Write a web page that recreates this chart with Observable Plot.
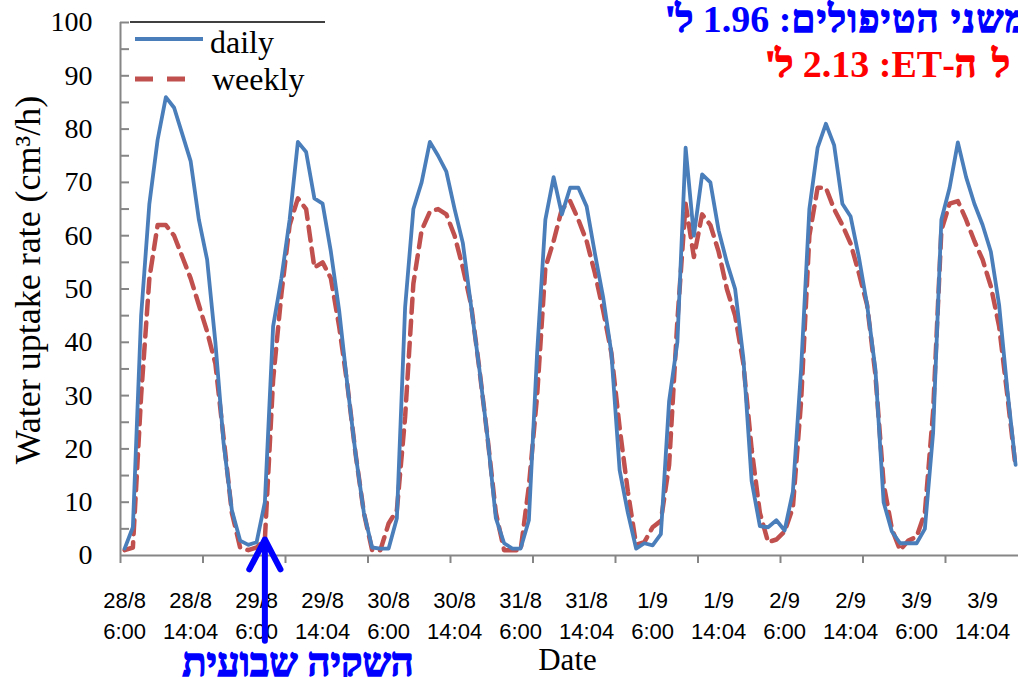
<!DOCTYPE html>
<html>
<head>
<meta charset="utf-8">
<script src="https://cdn.jsdelivr.net/npm/d3@7"></script>
<script src="https://cdn.jsdelivr.net/npm/@observablehq/plot@0.6"></script>
<style>
  html, body { margin: 0; padding: 0; background: #fff; overflow: hidden; }
  #wrap { position: relative; width: 1018px; height: 677px; overflow: hidden; background: #fff; }
  #wrap > svg { position: absolute; left: 0; top: 0; }
  .he { position: absolute; white-space: nowrap; font-family: "Liberation Serif", "DejaVu Sans", serif; font-weight: bold; line-height: 1; }
  .heb { -webkit-text-stroke: 1.4px currentColor; }
</style>
</head>
<body>
<div id="wrap">
  <div id="chart"></div>
  <svg id="legend" width="340" height="110" style="position:absolute;left:0;top:0">
    <line x1="130" y1="22" x2="325" y2="22" stroke="#000" stroke-width="1.5"/>
    <line x1="135" y1="39" x2="203" y2="39" stroke="#4A7EBB" stroke-width="4"/>
    <line x1="135" y1="79" x2="190" y2="79" stroke="#C0504D" stroke-width="5" stroke-dasharray="18 14"/>
    <text x="210" y="53" font-family="Liberation Serif, serif" font-size="32">daily</text>
    <text x="212" y="90" font-family="Liberation Serif, serif" font-size="32">weekly</text>
  </svg>
  <div class="he" dir="rtl" style="left:665px;top:0px;font-size:38px;color:#0000FF"><span class="heb" style="letter-spacing:1.5px">משני הטיפולים</span>: 1.96 <span class="heb">ל'</span></div>
  <div class="he" dir="rtl" style="left:765px;top:45px;font-size:38px;color:#FF0000"><span class="heb" style="letter-spacing:3px">ל ה</span>-<bdi>ET</bdi>: 2.13 <span class="heb">ל'</span></div>
  <div class="he heb" dir="rtl" style="left:148px;top:649px;width:300px;text-align:center;font-size:40px;line-height:0.7;color:#0000FF">השקיה שבועית</div>
</div>
<script>
// ---- data (category index = sample number along the Excel category axis) ----
const daily = [
  1.3, 5.3, 45, 66, 78, 86, 84, 79, 74, 63,
  55.5, 40, 21, 8.5, 2.8, 2, 2.5, 10, 43, 52,
  63, 77.6, 75.7, 67, 66, 57, 46, 32, 19, 8,
  1.5, 1.3, 1.3, 7, 46.6, 65, 70, 77.6, 75, 72,
  65, 58.6, 46.7, 35, 22, 7, 2.3, 1.3, 1.3, 6.6,
  38, 63, 71, 64, 69, 69, 65.5, 56.7, 48.5, 38,
  16, 8, 1.3, 2.3, 1.9, 4, 29, 40, 76.5, 60,
  71.5, 70, 61, 55, 50, 37, 14, 5.5, 5.3, 6.6,
  4.7, 12, 35, 65, 76.5, 81, 77, 66, 63.6, 56,
  47, 35, 10, 4.5, 2.3, 2.3, 2.3, 5, 23, 63,
  69, 77.5, 71, 66, 62, 57, 47, 31, 17
];
const weekly = [
  1, 1.5, 30, 52, 62, 62, 60, 56, 52, 47,
  42, 36, 22, 8, 1.5, 1, 1.5, 3, 33, 49,
  62, 67, 65, 54, 55, 52, 43, 32, 19, 8,
  1, 1, 6, 8.5, 26, 51, 61, 64.5, 65, 64,
  60, 54, 47, 35, 22, 8, 1, 1, 1, 13,
  30, 54, 59, 65, 66.5, 63, 59, 53, 46, 38,
  24, 12, 2, 2.5, 5.3, 6.5, 17, 44, 66, 56,
  64, 62, 57, 50, 45, 36, 20, 8, 2.5, 3,
  4.5, 9, 29, 60, 69, 69, 65, 62, 58.5, 53,
  47, 34, 13.5, 5, 1, 2.8, 3.5, 8, 27, 61,
  66, 66.5, 63, 59, 55.5, 50.5, 43, 30, 16.5
];
const dateLabels = ["28/8","28/8","29/8","29/8","30/8","30/8","31/8","31/8","1/9","1/9","2/9","2/9","3/9","3/9"];
const timeLabels = ["6:00","14:04","6:00","14:04","6:00","14:04","6:00","14:04","6:00","14:04","6:00","14:04","6:00","14:04"];
const labelIndex = [0, 8, 16, 24, 32, 40, 48, 56, 64, 72, 80, 88, 96, 104];
const xTickMarks = [-0.5, 9.5, 19.5, 29.5, 39.5, 49.5, 59.5, 69.5, 79.5, 89.5, 99.5];
const yTickMarks = [5,10,15,20,25,30,35,40,45,50,55,60,65,70,75,80,85,90,95,100];
const yTickLabels = [0,10,20,30,40,50,60,70,80,90,100];
const irrigationArrow = [{x: 17, y1: -16, y2: 3}];

const rows = daily.map((v, i) => ({i, daily: v, weekly: weekly[i]}));
const labelText = new Map(labelIndex.map((k, j) => [k, dateLabels[j] + "\n" + timeLabels[j]]));

const gray = "#868686";
const chart = Plot.plot({
  width: 1018,
  height: 677,
  marginLeft: 120,
  marginRight: 0,
  marginTop: 22,
  marginBottom: 122,
  x: {domain: [-0.5, 108.35], axis: null},
  y: {domain: [0, 100], axis: null},
  style: {background: "transparent", overflow: "visible"},
  marks: [
    Plot.ruleY([0], {stroke: gray, strokeWidth: 2}),
    Plot.ruleX([-0.5], {stroke: gray, strokeWidth: 2}),
    Plot.axisY(yTickMarks, {tickSize: -9, tickFormat: () => "", stroke: gray, strokeWidth: 2}),
    Plot.axisY(yTickLabels, {tickSize: 0, tickPadding: 28, fontSize: 28, fontFamily: "Liberation Serif, serif", color: "black"}),
    Plot.axisX(xTickMarks, {tickSize: 8, tickFormat: () => "", stroke: gray, strokeWidth: 2}),
    Plot.axisX(labelIndex, {tickSize: 0, tickPadding: 30, tickFormat: d => labelText.get(d), fontSize: 22, lineHeight: 1.42, fontFamily: "Liberation Sans, sans-serif", color: "black"}),
    Plot.text(["Water uptake rate (cm³/h)"], {frameAnchor: "left", textAnchor: "middle", rotate: -90, dx: -92, dy: -9, fontSize: 36, fontFamily: "Liberation Serif, serif", fill: "black"}),
    Plot.text(["Date"], {frameAnchor: "bottom", dx: -2, dy: 114, fontSize: 31, fontFamily: "Liberation Serif, serif", fill: "black"}),
    Plot.line(rows, {x: "i", y: "weekly", stroke: "#C0504D", strokeWidth: 4.5, strokeDasharray: "14 8", strokeLinejoin: "round"}),
    Plot.line(rows, {x: "i", y: "daily", stroke: "#4A7EBB", strokeWidth: 3.8, strokeLinejoin: "round"}),
    Plot.arrow(irrigationArrow, {x: "x", y1: "y1", y2: "y2", stroke: "#0000FF", strokeWidth: 6, headLength: 30, headAngle: 55})
  ]
});
document.getElementById("chart").appendChild(chart);
</script>
</body>
</html>
